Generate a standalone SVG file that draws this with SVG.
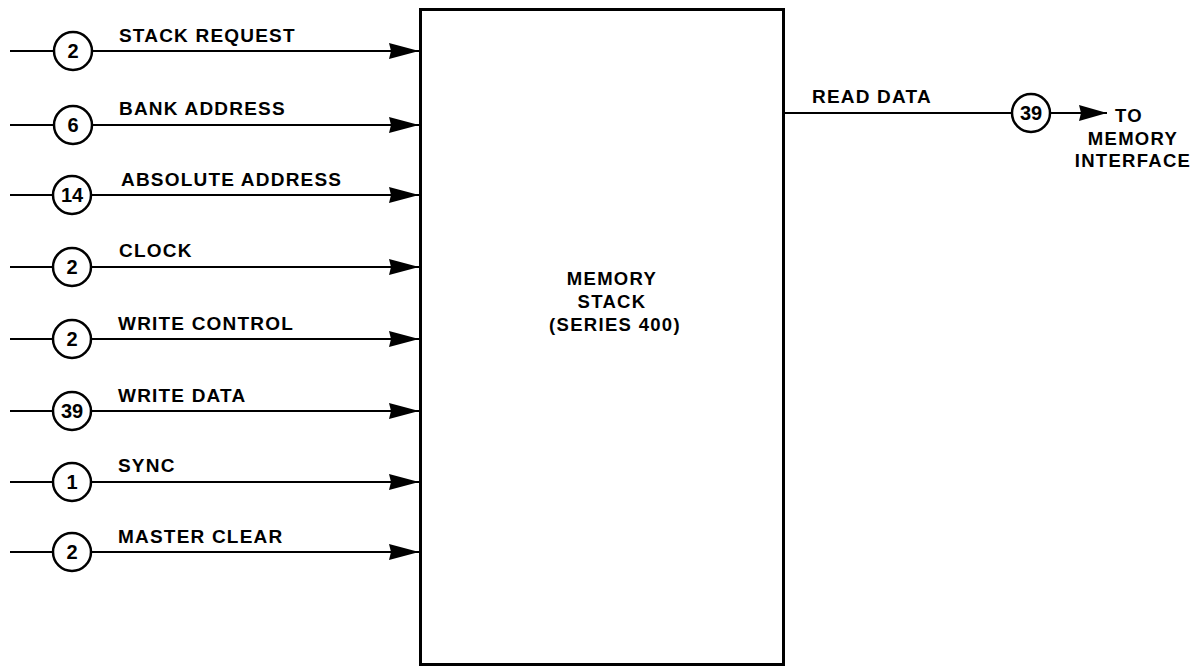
<svg xmlns="http://www.w3.org/2000/svg" width="1199" height="667" viewBox="0 0 1199 667">
<style>
.lbl{font-family:"Liberation Sans",Arial,sans-serif;font-weight:bold;font-size:19px;letter-spacing:1.2px;fill:#000}
.num{font-family:"Liberation Sans",Arial,sans-serif;font-weight:bold;font-size:20px;fill:#000;text-anchor:middle}
.ctr{font-family:"Liberation Sans",Arial,sans-serif;font-weight:bold;font-size:18.5px;letter-spacing:1.3px;fill:#000;text-anchor:middle}
.ln{stroke:#000;stroke-width:2;fill:none}
.cir{stroke:#000;stroke-width:2.5;fill:#fff}
</style>
<defs>
<marker id="arr" viewBox="0 0 30 18" refX="30" refY="9" markerWidth="30" markerHeight="18" markerUnits="userSpaceOnUse" orient="auto">
<path d="M0,1 L30,9 L0,17 L2,9 Z" fill="#000"/>
</marker>
<marker id="arr2" viewBox="0 0 28 16" refX="28" refY="8" markerWidth="28" markerHeight="16" markerUnits="userSpaceOnUse" orient="auto">
<path d="M0,0 L28,8 L0,16 L2,8 Z" fill="#000"/>
</marker>
</defs>

<g id="memory-stack">
<rect x="420.5" y="9.5" width="363" height="655" fill="#fff" stroke="#000" stroke-width="3"/>
<text class="ctr" x="612" y="285">MEMORY</text>
<text class="ctr" x="612" y="308">STACK</text>
<text class="ctr" x="615" y="331">(SERIES 400)</text>
</g>

<g id="connectors">
<line class="ln" x1="10" y1="51" x2="54" y2="51"/>
<line class="ln" x1="92" y1="51" x2="419" y2="51" marker-end="url(#arr)"/>
<line class="ln" x1="10" y1="125" x2="54" y2="125"/>
<line class="ln" x1="92" y1="125" x2="419" y2="125" marker-end="url(#arr)"/>
<line class="ln" x1="10" y1="195" x2="53" y2="195"/>
<line class="ln" x1="91" y1="195" x2="419" y2="195" marker-end="url(#arr)"/>
<line class="ln" x1="10" y1="267" x2="53" y2="267"/>
<line class="ln" x1="91" y1="267" x2="419" y2="267" marker-end="url(#arr)"/>
<line class="ln" x1="10" y1="339" x2="53" y2="339"/>
<line class="ln" x1="91" y1="339" x2="419" y2="339" marker-end="url(#arr)"/>
<line class="ln" x1="10" y1="411" x2="53" y2="411"/>
<line class="ln" x1="91" y1="411" x2="419" y2="411" marker-end="url(#arr)"/>
<line class="ln" x1="10" y1="482" x2="53" y2="482"/>
<line class="ln" x1="91" y1="482" x2="419" y2="482" marker-end="url(#arr)"/>
<line class="ln" x1="10" y1="552" x2="53" y2="552"/>
<line class="ln" x1="91" y1="552" x2="419" y2="552" marker-end="url(#arr)"/>
<line class="ln" x1="783" y1="113" x2="1012" y2="113"/>
<line class="ln" x1="1050" y1="113" x2="1107" y2="113" marker-end="url(#arr2)"/>
</g>

<g id="stack-request">
<circle class="cir" cx="73" cy="51" r="19"/>
<text class="num" x="73" y="58">2</text>
<text class="lbl" x="119" y="42">STACK REQUEST</text>
</g>
<g id="bank-address">
<circle class="cir" cx="73" cy="125" r="19"/>
<text class="num" x="73" y="132">6</text>
<text class="lbl" x="119" y="115">BANK ADDRESS</text>
</g>
<g id="absolute-address">
<circle class="cir" cx="72" cy="195" r="19"/>
<text class="num" x="72" y="202">14</text>
<text class="lbl" x="121" y="186">ABSOLUTE ADDRESS</text>
</g>
<g id="clock">
<circle class="cir" cx="72" cy="267" r="19"/>
<text class="num" x="72" y="274">2</text>
<text class="lbl" x="119" y="257">CLOCK</text>
</g>
<g id="write-control">
<circle class="cir" cx="72" cy="339" r="19"/>
<text class="num" x="72" y="346">2</text>
<text class="lbl" x="118" y="330">WRITE CONTROL</text>
</g>
<g id="write-data">
<circle class="cir" cx="72" cy="411" r="19"/>
<text class="num" x="72" y="418">39</text>
<text class="lbl" x="118" y="402">WRITE DATA</text>
</g>
<g id="sync">
<circle class="cir" cx="72" cy="482" r="19"/>
<text class="num" x="72" y="489">1</text>
<text class="lbl" x="118" y="472">SYNC</text>
</g>
<g id="master-clear">
<circle class="cir" cx="72" cy="552" r="19"/>
<text class="num" x="72" y="559">2</text>
<text class="lbl" x="118" y="543">MASTER CLEAR</text>
</g>

<g id="read-data">
<text class="lbl" x="812" y="103">READ DATA</text>
<circle class="cir" cx="1031" cy="113" r="19"/>
<text class="num" x="1031" y="120">39</text>
</g>
<g id="memory-interface">
<text class="ctr" x="1129" y="122">TO</text>
<text class="ctr" x="1133" y="145">MEMORY</text>
<text class="ctr" x="1133" y="167">INTERFACE</text>
</g>
</svg>
